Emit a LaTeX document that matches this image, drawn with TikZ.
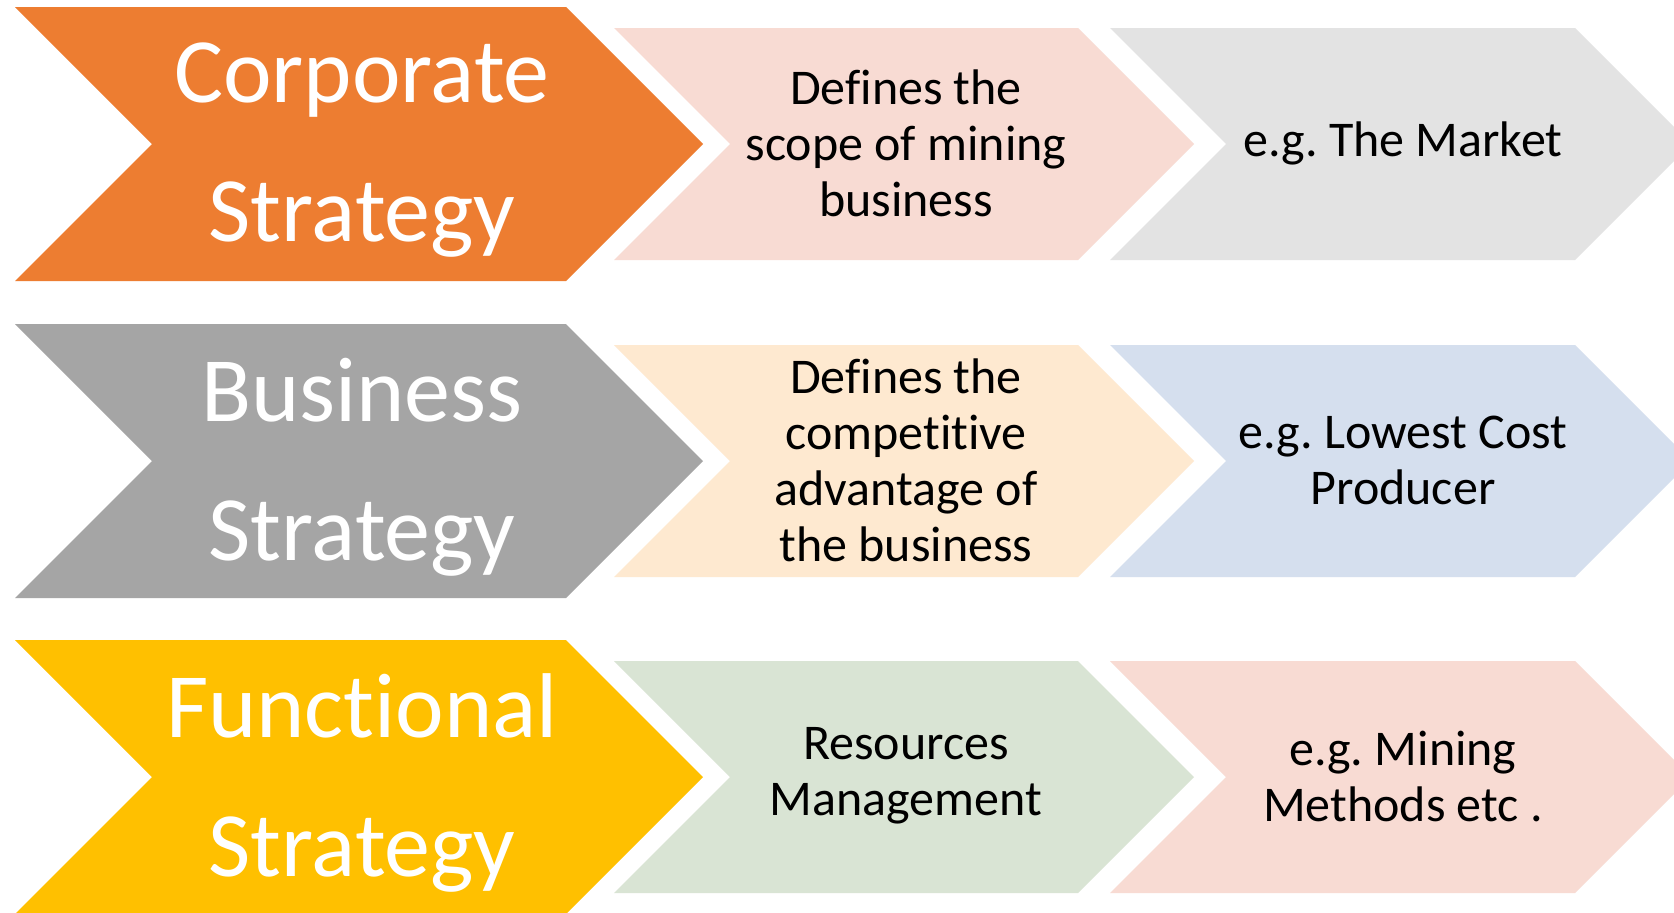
\documentclass[tikz,border=0pt]{standalone}
\usepackage{fontspec}
\setmainfont{Carlito}[Ligatures={NoCommon}]
\frenchspacing
\definecolor{corp}{HTML}{ED7D31}
\definecolor{busi}{HTML}{A5A5A5}
\definecolor{func}{HTML}{FFC000}
\definecolor{pinkL}{HTML}{F8DBD3}
\definecolor{grayL}{HTML}{E3E3E3}
\definecolor{peachL}{HTML}{FEE9D0}
\definecolor{blueL}{HTML}{D5DFEE}
\definecolor{greenL}{HTML}{D9E4D4}
\newcommand\mychev[5]{% left x, flat x, center y, half height, colour
  \fill[#5] (#1,#3-#4) -- (#2,#3-#4) -- (#2+#4,#3) -- (#2,#3+#4) -- (#1,#3+#4) -- (#1+#4,#3) -- cycle;}
\tikzset{
  bigtxt/.style={text=white, align=center, font=\fontsize{46}{69.5}\selectfont, inner sep=0pt},
  smalltxt/.style={text=black, align=center, font=\fontsize{25}{28}\selectfont, inner sep=0pt}
}
\begin{document}
\begin{tikzpicture}[x=0.5pt,y=-0.5pt]
\useasboundingbox (0,0) rectangle (1674,912);
\clip (0,0) rectangle (1674,912);
\fill[white] (0,0) rectangle (1674,912);
% row 1
\mychev{15}{566}{144}{137}{corp}
\mychev{614}{1078}{144}{116}{pinkL}
\mychev{1110}{1575}{144}{116}{grayL}
% row 2
\mychev{15}{566}{461}{137}{busi}
\mychev{614}{1078}{461}{116}{peachL}
\mychev{1110}{1575}{461}{116}{blueL}
% row 3
\mychev{15}{566}{777}{137}{func}
\mychev{614}{1078}{777}{116}{greenL}
\mychev{1110}{1575}{777}{116}{pinkL}
% texts
\node[bigtxt] (corporate) at (362,150) {Corporate\\Strategy};
\node[bigtxt] (business) at (362,467) {Business\\Strategy};
\node[bigtxt] (functional) at (362,783) {Functional\\Strategy};
\node[smalltxt] (scope) at (906,143) {Defines the\\scope of mining\\business};
\node[smalltxt] (market) at (1403,143) {e.g. The Market};
\node[smalltxt] (compet) at (906,460) {Defines the\\competitive\\advantage of\\the business};
\node[smalltxt] (lowest) at (1403,460) {e.g. Lowest Cost\\Producer};
\node[smalltxt] (resources) at (906,776) {Resources\\Management};
\node[smalltxt] (methods) at (1403,776) {e.g. Mining\\Methods etc .};
\end{tikzpicture}
\end{document}
